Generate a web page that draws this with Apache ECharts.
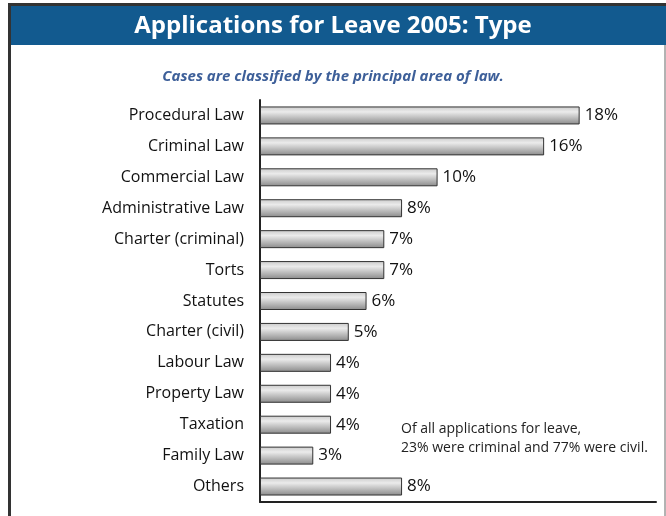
<!DOCTYPE html>
<html>
<head>
<meta charset="utf-8">
<script src="https://cdn.jsdelivr.net/npm/echarts@6/dist/echarts.min.js"></script>
<style>
  html, body { margin: 0; padding: 0; background: #fff; }
  #chart { width: 666px; height: 516px; }
</style>
</head>
<body>
<div id="chart"></div>
<script>
// 数据
const categories = [
  'Procedural Law', 'Criminal Law', 'Commercial Law', 'Administrative Law',
  'Charter (criminal)', 'Torts', 'Statutes', 'Charter (civil)',
  'Labour Law', 'Property Law', 'Taxation', 'Family Law', 'Others'
];
const shares = [18, 16, 10, 8, 7, 7, 6, 5, 4, 4, 4, 3, 8];
const noteLines = [
  'Of all applications for leave,',
  '23% were criminal and 77% were civil.'
];

const FONT = '"Open Sans", "Noto Sans", sans-serif';

const myChart = echarts.init(document.getElementById('chart'));
const option = {
  backgroundColor: '#ffffff',
  animation: false,
  title: [
    {
      text: 'Applications for Leave 2005: Type',
      left: 'center',
      top: 9,
      textStyle: { color: '#ffffff', fontSize: 24, fontWeight: 'bold', fontFamily: FONT }
    },
    {
      text: 'Cases are classified by the principal area of law.',
      left: 'center',
      top: 64,
      textStyle: { color: '#3d5f99', fontSize: 15, fontWeight: 'bold', fontStyle: 'italic', fontFamily: FONT }
    }
  ],
  graphic: [
    // 外框与标题栏
    { type: 'rect', z: -10, shape: { x: 9, y: 5, width: 656, height: 520 },
      style: { fill: 'none', stroke: '#666', lineWidth: 1 } },
    { type: 'rect', z: -9, shape: { x: 8, y: 3, width: 660, height: 3 },
      style: { fill: '#333' } },
    { type: 'rect', z: -9, shape: { x: 8, y: 3, width: 3, height: 520 },
      style: { fill: '#333' } },
    { type: 'rect', z: -8, shape: { x: 11, y: 6, width: 660, height: 39 },
      style: { fill: '#125a8f' } },
    {
      type: 'text', left: 401, top: 420,
      style: { text: noteLines.join('\n'), fill: '#222', font: '14px ' + FONT, lineHeight: 19 }
    }
  ],
  grid: { left: 260, right: 10, top: 100, height: 402 },
  xAxis: {
    type: 'value',
    min: 0,
    max: 22.3,
    axisLine: { show: true, lineStyle: { color: '#222', width: 2 } },
    axisTick: { show: false },
    axisLabel: { show: false },
    splitLine: { show: false }
  },
  yAxis: {
    type: 'category',
    inverse: true,
    data: categories,
    axisLine: { show: true, lineStyle: { color: '#222', width: 2 } },
    axisTick: { show: false },
    axisLabel: { color: '#111', fontSize: 16, fontFamily: FONT, margin: 16, padding: [3, 0, 0, 0] }
  },
  series: [
    {
      type: 'bar',
      data: shares,
      barWidth: 18,
      itemStyle: {
        borderColor: '#333',
        borderWidth: 1,
        color: new echarts.graphic.LinearGradient(0, 0, 0, 1, [
          { offset: 0, color: '#cacaca' },
          { offset: 0.3, color: '#ebebeb' },
          { offset: 1, color: '#8a8a8a' }
        ])
      },
      label: {
        show: true,
        position: 'right',
        distance: 5,
        formatter: '{c}%',
        color: '#111',
        fontSize: 17,
        fontFamily: FONT
      }
    }
  ]
};
myChart.setOption(option);
</script>
</body>
</html>
